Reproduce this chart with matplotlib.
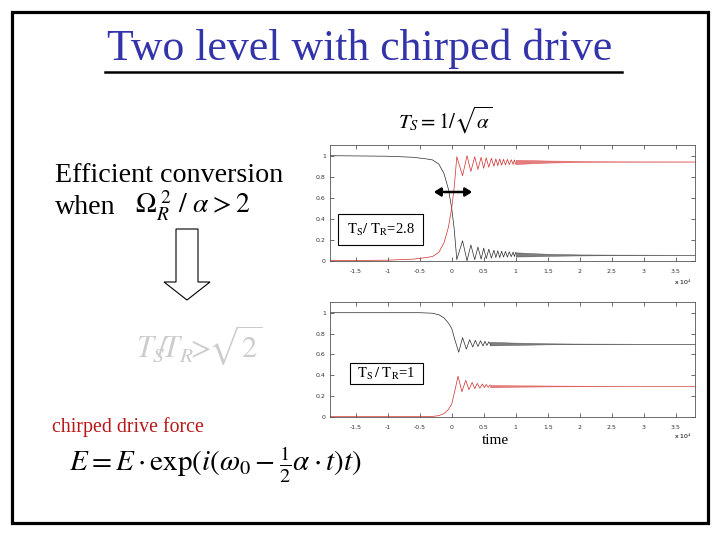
import matplotlib
matplotlib.use("Agg")
import matplotlib.pyplot as plt
import matplotlib.patches as pth
import numpy as np

plt.rcParams['font.family'] = ['Liberation Serif', 'DejaVu Serif']
plt.rcParams['mathtext.fontset'] = 'stix'

# time axis is in units of 1e4
# --- upper panel (Ts/TR = 2.8) ---
top_black_t = [-1.9, -1.0, -0.6, -0.4, -0.3, -0.2, -0.12, -0.05, 0.0, 0.04, 0.08,
               0.17, 0.24, 0.30, 0.36, 0.41, 0.46, 0.50, 0.54, 0.58, 0.62, 0.66, 0.69,
               0.72, 0.75, 0.78, 0.81, 0.84, 0.87, 0.90, 0.93, 0.96, 0.98, 1.0]
top_black_v = [1.0, 0.995, 0.985, 0.97, 0.96, 0.92, 0.83, 0.68, 0.5, 0.3, 0.01,
               0.19, 0.0, 0.15, 0.01, 0.13, 0.015, 0.12, 0.02, 0.11, 0.025, 0.10, 0.03,
               0.095, 0.03, 0.09, 0.035, 0.088, 0.035, 0.085, 0.038, 0.083, 0.04, 0.08]
top_red_t = [-1.9, -1.0, -0.6, -0.4, -0.3, -0.2, -0.12, -0.05, 0.0, 0.04, 0.08,
             0.17, 0.24, 0.30, 0.36, 0.41, 0.46, 0.50, 0.54, 0.58, 0.62, 0.66, 0.69,
             0.72, 0.75, 0.78, 0.81, 0.84, 0.87, 0.90, 0.93, 0.96, 0.98, 1.0]
top_red_v = [0.0, 0.005, 0.015, 0.03, 0.04, 0.08, 0.17, 0.32, 0.5, 0.7, 0.99,
             0.81, 1.0, 0.85, 0.99, 0.87, 0.985, 0.88, 0.98, 0.89, 0.975, 0.90, 0.97,
             0.905, 0.97, 0.91, 0.965, 0.912, 0.965, 0.915, 0.962, 0.917, 0.96, 0.92]
# envelope of the dense oscillation
top_band_t = [1.0, 1.25, 1.5, 2.0, 2.5, 3.0, 3.8]
top_black_hi = [0.080, 0.072, 0.066, 0.060, 0.058, 0.057, 0.056]
top_black_lo = [0.040, 0.042, 0.046, 0.050, 0.053, 0.054, 0.055]
top_red_hi = [0.960, 0.958, 0.954, 0.950, 0.947, 0.946, 0.945]
top_red_lo = [0.920, 0.928, 0.934, 0.940, 0.942, 0.943, 0.944]

# --- lower panel (Ts/TR = 1) ---
bot_black_t = [-1.9, -0.5, -0.3, -0.2, -0.12, -0.05, 0.0, 0.05, 0.11,
               0.17, 0.23, 0.28, 0.33, 0.37, 0.41, 0.45, 0.49, 0.52, 0.55, 0.58, 0.61]
bot_black_v = [1.0, 1.0, 0.995, 0.98, 0.95, 0.9, 0.85, 0.74, 0.62,
               0.76, 0.65, 0.74, 0.67, 0.735, 0.675, 0.73, 0.68, 0.725, 0.685, 0.72, 0.688]
bot_red_t = [-1.9, -0.5, -0.3, -0.2, -0.12, -0.05, 0.0, 0.05, 0.10,
             0.16, 0.22, 0.27, 0.32, 0.36, 0.40, 0.44, 0.48, 0.51, 0.54, 0.57, 0.60]
bot_red_v = [0.0, 0.0, 0.003, 0.01, 0.03, 0.07, 0.12, 0.25, 0.39,
             0.24, 0.35, 0.26, 0.33, 0.27, 0.32, 0.275, 0.315, 0.28, 0.31, 0.283, 0.305]
bot_band_t = [0.6, 1.0, 1.5, 2.0, 2.5, 3.0, 3.8]
bot_black_hi = [0.720, 0.712, 0.706, 0.703, 0.702, 0.701, 0.701]
bot_black_lo = [0.686, 0.690, 0.696, 0.698, 0.699, 0.700, 0.700]
bot_red_hi = [0.305, 0.302, 0.300, 0.298, 0.297, 0.296, 0.296]
bot_red_lo = [0.283, 0.288, 0.291, 0.293, 0.294, 0.295, 0.295]

x_ticks = [-1.5, -1, -0.5, 0, 0.5, 1, 1.5, 2, 2.5, 3, 3.5]
y_ticks = [0, 0.2, 0.4, 0.6, 0.8, 1]

W, H = 720, 540
BLACK = "#2a2a2a"
RED = "#d42a2a"


def P(x, y):  # pixel -> figure coords
    return x / W, 1 - y / H


fig = plt.figure(figsize=(7.2, 5.4), dpi=100)


def make_axes(top, bottom):
    ax = fig.add_axes([330 / W, 1 - bottom / H, 365 / W, (bottom - top) / H])
    ax.set_xlim(-1.9, 3.8)
    ax.set_ylim(0, 1.1)
    ax.set_xticks(x_ticks)
    ax.set_xticklabels(["%g" % v for v in x_ticks])
    ax.set_yticks(y_ticks)
    ax.set_yticklabels(["%g" % v for v in y_ticks])
    ax.tick_params(direction="in", length=3, width=0.5, top=True, right=True,
                   labelsize=4.5, colors="#333333")
    ax.tick_params(axis="x", pad=6)
    ax.tick_params(axis="y", pad=3)
    for lab in ax.get_xticklabels() + ax.get_yticklabels():
        lab.set_family("DejaVu Sans")
    for s in ax.spines.values():
        s.set_linewidth(0.6)
        s.set_color("#555555")
    return ax


ax1 = make_axes(145.2, 260.7)
ax1.plot(top_black_t, top_black_v, color=BLACK, lw=0.5)
ax1.plot(top_red_t, top_red_v, color=RED, lw=0.5)
ax1.fill_between(top_band_t, top_black_lo, top_black_hi, color=BLACK, lw=0.4, alpha=0.6)
ax1.fill_between(top_band_t, top_red_lo, top_red_hi, color=RED, lw=0.4, alpha=0.6)

ax2 = make_axes(302.3, 416.7)
ax2.plot(bot_black_t, bot_black_v, color=BLACK, lw=0.5)
ax2.plot(bot_red_t, bot_red_v, color=RED, lw=0.5)
ax2.fill_between(bot_band_t, bot_black_lo, bot_black_hi, color=BLACK, lw=0.4, alpha=0.6)
ax2.fill_between(bot_band_t, bot_red_lo, bot_red_hi, color=RED, lw=0.4, alpha=0.6)

fig.text(*P(683, 282), r"x 10$^{4}$", fontsize=4.5, family="DejaVu Sans", ha="center", va="center")
fig.text(*P(683, 436), r"x 10$^{4}$", fontsize=4.5, family="DejaVu Sans", ha="center", va="center")

# slide frame
fig.add_artist(pth.Rectangle(P(12, 523), 696 / W, 511 / H, transform=fig.transFigure,
                             fill=False, lw=2.3, edgecolor="black"))

# title
fig.text(*P(360, 60), "Two level with chirped drive", fontsize=31.5, color="#3333aa",
         ha="center", va="baseline")
fig.add_artist(plt.Line2D([105 / W, 622 / W], [1 - 72 / H] * 2, color="black", lw=1.8))

fig.text(*P(445, 120), r"$T_S = 1/\sqrt{\alpha}$", fontsize=15, ha="center", va="center")

fig.text(*P(55, 182), "Efficient conversion", fontsize=20.2, ha="left", va="baseline")
fig.text(*P(55, 214), "when", fontsize=20.2, ha="left", va="baseline")
fig.text(*P(135, 214), r"$\Omega_R^{\ 2}\ /\ \alpha > 2$", fontsize=20, ha="left", va="baseline")

# hollow down arrow
arrow_xy = [(176, 229), (198, 229), (198, 282), (210, 282), (187, 300), (164, 282), (176, 282)]
fig.add_artist(pth.Polygon([P(x, y) for x, y in arrow_xy], closed=True, transform=fig.transFigure,
                           facecolor="white", edgecolor="black", lw=0.8))

fig.text(*P(199, 345), r"$T_S\!\!/\!T_R\!\!>\!\!\sqrt{2}$", fontsize=22, color="#cccccc",
         ha="center", va="center")

fig.text(*P(52, 432), "chirped drive force", fontsize=14.3, color="#b81818", ha="left", va="baseline")
fig.text(*P(215, 465), r"$E = E\cdot\exp(i(\omega_0 - \frac{1}{2}\alpha\cdot t)t)$", fontsize=21,
         ha="center", va="center")

fig.text(*P(495, 441), "time", fontsize=11, ha="center", va="center")

# ratio labels
for (x0, y0, x1, y1), label in [((338, 214, 423, 245), r"$\mathrm{T_{S}/\ T_{R}}$=2.8"),
                                 ((350, 363, 423, 384), r"$\mathrm{T_{S}\,/\ T_{R}}$=1")]:
    fig.add_artist(pth.Rectangle(P(x0, y1), (x1 - x0) / W, (y1 - y0) / H, transform=fig.transFigure,
                                 facecolor="white", edgecolor="black", lw=0.8, zorder=5))
    fig.text(*P((x0 + x1) / 2, (y0 + y1) / 2), label, fontsize=10.5, ha="center", va="center", zorder=6)

# double arrow over the transition
fig.add_artist(pth.FancyArrowPatch(P(431, 192), P(475, 192), transform=fig.transFigure,
                                   arrowstyle="<|-|>,head_length=4,head_width=2.5",
                                   color="black", lw=1.8, zorder=6))

fig.savefig("out.png", dpi=100)
